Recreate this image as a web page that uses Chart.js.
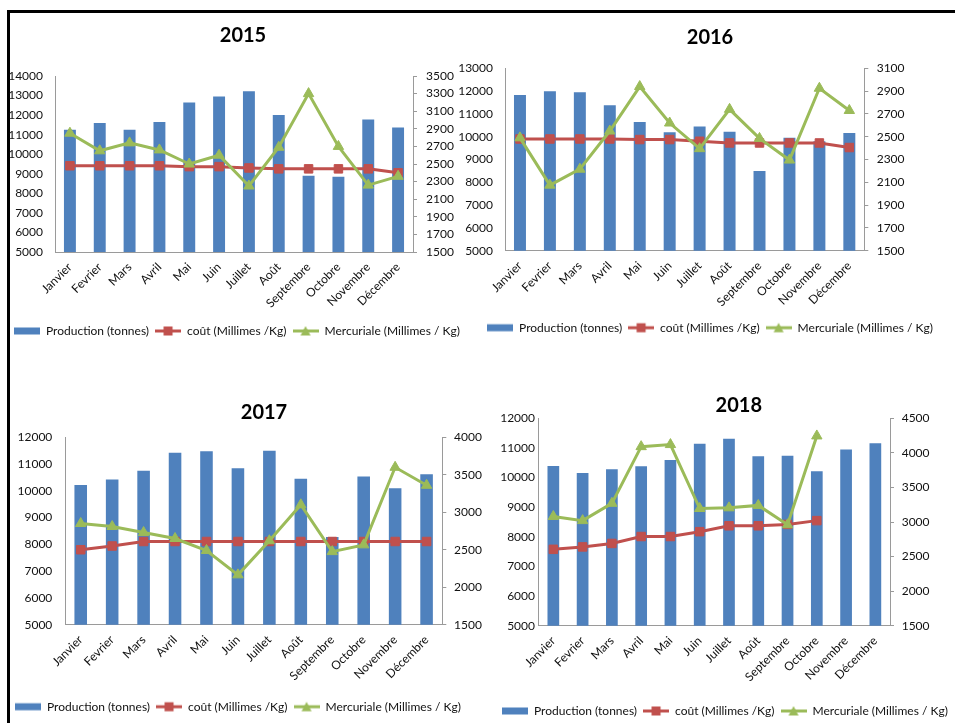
<!DOCTYPE html>
<html><head><meta charset="utf-8">
<script src="https://cdn.jsdelivr.net/npm/chart.js@4.4.1/dist/chart.umd.min.js"></script>
<style>
html,body{margin:0;padding:0;background:#fff;width:955px;height:723px;overflow:hidden;position:relative;font-family:Lato,sans-serif}
#frame{position:absolute;left:7px;top:10px;width:1000px;height:800px;border-left:3px solid #000;border-top:3px solid #000;box-sizing:border-box}
canvas{position:absolute}
</style></head><body>
<div id="frame"></div>
<canvas id="c2015"></canvas>
<canvas id="c2016"></canvas>
<canvas id="c2017"></canvas>
<canvas id="c2018"></canvas>
<script>
// ---------- DATA ----------
const months = ['Janvier','Fevrier','Mars','Avril','Mai','Juin','Juillet','Août','Septembre','Octobre','Novembre','Décembre'];
const seriesNames = ['Production (tonnes)','coût (Millimes /Kg)','Mercuriale (Millimes / Kg)'];

const production2015 = [11250, 11600, 11250, 11650, 12650, 12950, 13220, 12000, 8900, 8850, 11770, 11370];
const cout2015       = [2480, 2480, 2480, 2480, 2470, 2470, 2455, 2445, 2445, 2445, 2445, 2400];
const mercuriale2015 = [2850, 2650, 2740, 2660, 2500, 2600, 2250, 2690, 3300, 2700, 2260, 2360];

const production2016 = [11830, 11990, 11950, 11380, 10650, 10190, 10450, 10220, 8500, 9950, 9800, 10160];
const cout2016       = [2480, 2480, 2480, 2480, 2475, 2475, 2460, 2445, 2445, 2445, 2445, 2405];
const mercuriale2016 = [2490, 2075, 2215, 2550, 2940, 2620, 2395, 2740, 2485, 2295, 2925, 2730];

const production2017 = [10220, 10420, 10750, 11420, 11480, 10840, 11500, 10450, 8280, 10540, 10100, 10620];
const cout2017       = [2500, 2550, 2610, 2610, 2610, 2610, 2610, 2610, 2610, 2610, 2610, 2610];
const mercuriale2017 = [2850, 2810, 2730, 2650, 2490, 2165, 2620, 3100, 2475, 2565, 3600, 3360];

const production2018 = [10390, 10150, 10280, 10380, 10590, 11140, 11310, 10720, 10740, 10210, 10950, 11160];
const cout2018       = [2605, 2640, 2690, 2790, 2790, 2860, 2945, 2945, 2965, 3020, null, null];
const mercuriale2018 = [3080, 3020, 3270, 4090, 4120, 3195, 3205, 3240, 2960, 4245, null, null];

// axis ranges: [min, max, step]
const prodAxis2015 = [5000, 14000, 1000];  const priceAxis2015 = [1500, 3500, 200];
const prodAxis2016 = [5000, 13000, 1000];  const priceAxis2016 = [1500, 3100, 200];
const prodAxis2017 = [5000, 12000, 1000];  const priceAxis2017 = [1500, 4000, 500];
const prodAxis2018 = [5000, 12000, 1000];  const priceAxis2018 = [1500, 4500, 500];

// ---------- STYLE ----------
const BLUE = '#4F81BD', RED = '#C0504D', GREEN = '#9BBB59', AX = '#9a9a9a', TXT = '#111';
const FONT = 'Lato';

function legendImg(kind){
  const c = document.createElement('canvas'); c.width = 26; c.height = 12;
  const g = c.getContext('2d');
  if (kind === 0) { g.fillStyle = BLUE; g.fillRect(0, 2.5, 26, 7); }
  else {
    const col = kind === 1 ? RED : GREEN;
    g.strokeStyle = col; g.lineWidth = 3;
    g.beginPath(); g.moveTo(0, 6); g.lineTo(26, 6); g.stroke();
    g.fillStyle = col;
    if (kind === 1) g.fillRect(8.5, 1.5, 9, 9);
    else { g.beginPath(); g.moveTo(13, 1); g.lineTo(18, 10.5); g.lineTo(8, 10.5); g.closePath(); g.fill(); }
  }
  return c;
}
const legendImgs = [legendImg(0), legendImg(1), legendImg(2)];

function makeChart(id, title, prod, cout, merc, pAxis, qAxis, L){
  const cv = document.getElementById(id);
  cv.width = L.w; cv.height = L.h;
  cv.style.left = L.left + 'px'; cv.style.top = L.top + 'px';
  const tickFont = {family: FONT, size: 12};
  new Chart(cv, {
    type: 'bar',
    data: {
      labels: months,
      datasets: [
        {label: seriesNames[0], data: prod, backgroundColor: BLUE, yAxisID: 'y', order: 3,
         categoryPercentage: 1, barPercentage: 0.4},
        {type: 'line', label: seriesNames[1], data: cout, yAxisID: 'y1', order: 2,
         borderColor: RED, backgroundColor: RED, borderWidth: 3, pointStyle: 'rect',
         pointRadius: 6, pointBorderWidth: 1, pointBackgroundColor: RED, tension: 0, spanGaps: false},
        {type: 'line', label: seriesNames[2], data: merc, yAxisID: 'y1', order: 1,
         borderColor: GREEN, backgroundColor: GREEN, borderWidth: 3, pointStyle: 'triangle',
         pointRadius: 6, pointBorderWidth: 1, pointBackgroundColor: GREEN, tension: 0, spanGaps: false}
      ]
    },
    options: {
      responsive: false, animation: false,
      layout: {padding: {left: L.pl, right: L.pr, top: 0, bottom: L.pb}},
      plugins: {
        tooltip: {enabled: false},
        title: {display: true, text: title, color: '#000',
                font: {family: FONT, size: 20, weight: 'bold', lineHeight: 1.2},
                padding: {top: L.tTop, bottom: L.tBot}},
        legend: {position: 'bottom', align: L.lAlign,
          labels: {usePointStyle: true, pointStyleWidth: 26, padding: 6, color: TXT,
            font: {family: FONT, size: 12},
            generateLabels: (ch) => ch.data.datasets.map((d, i) => ({
              text: d.label, pointStyle: legendImgs[i], fillStyle: 'transparent',
              strokeStyle: 'transparent', lineWidth: 0, hidden: false, datasetIndex: i, fontColor: TXT}))
          }}
      },
      scales: {
        x: {grid: {display: false, drawTicks: false}, border: {color: AX, width: 1},
            ticks: {autoSkip: false, minRotation: 45, maxRotation: 45, padding: 8, color: TXT, font: tickFont},
            afterFit: (s) => { s.height = L.xH; }},
        y: {position: 'left', min: pAxis[0], max: pAxis[1],
            grid: {display: false, drawTicks: false}, border: {color: AX, width: 1},
            ticks: {stepSize: pAxis[2], padding: L.yPad, color: TXT, font: tickFont, callback: (v) => String(v)},
            afterFit: (s) => { s.width = L.yW; }},
        y1: {position: 'right', min: qAxis[0], max: qAxis[1],
            grid: {display: true, drawOnChartArea: false, drawTicks: true, tickLength: 4, color: AX},
            border: {color: AX, width: 1},
            ticks: {stepSize: qAxis[2], padding: L.y1Pad, color: TXT, font: tickFont, callback: (v) => String(v)},
            afterFit: (s) => { s.width = L.y1W; }}
      }
    }
  });
}

makeChart('c2015', '2015', production2015, cout2015, mercuriale2015, prodAxis2015, priceAxis2015,
  {left: 8, top: 12, w: 470, h: 340, pl: 0, pr: 0, pb: 5, tTop: 12, tBot: 28, xH: 67, yW: 47, y1W: 65, yPad: 12, y1Pad: 9, lAlign: 'start'});
makeChart('c2016', '2016', production2016, cout2016, mercuriale2016, prodAxis2016, priceAxis2016,
  {left: 455, top: 12, w: 510, h: 340, pl: 0, pr: 0, pb: 8.3, tTop: 13.2, tBot: 19.1, xH: 65, yW: 50, y1W: 100.7, yPad: 12, y1Pad: 8.4, lAlign: 'center'});
makeChart('c2017', '2017', production2017, cout2017, mercuriale2017, prodAxis2017, priceAxis2017,
  {left: 9, top: 380, w: 510, h: 343, pl: 0, pr: 0, pb: 0.3, tTop: 20.5, tBot: 12.8, xH: 70, yW: 56, y1W: 76.7, yPad: 12.7, y1Pad: 7.7, lAlign: 'start'});
makeChart('c2018', '2018', production2018, cout2018, mercuriale2018, prodAxis2018, priceAxis2018,
  {left: 490, top: 380, w: 500, h: 350, pl: 6, pr: 8.4, pb: 3, tTop: 13.8, tBot: 0.5, xH: 73.3, yW: 42.7, y1W: 91.6, yPad: 3.7, y1Pad: 7.7, lAlign: 'start'});
</script>
</body></html>
